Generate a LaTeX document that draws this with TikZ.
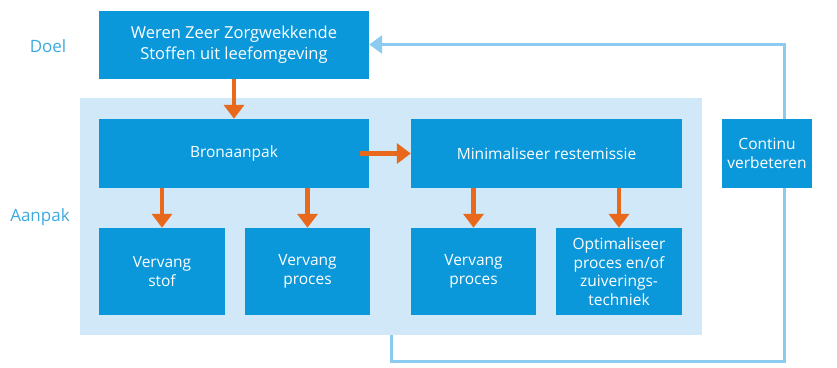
\documentclass[tikz,border=0pt]{standalone}
\usepackage{fontspec}
\setmainfont{Open Sans}
\usetikzlibrary{arrows.meta}

\definecolor{roblue}{RGB}{10,152,218}
\definecolor{ropanel}{RGB}{208,232,248}
\definecolor{roline}{RGB}{140,203,240}
\definecolor{rolabel}{RGB}{60,170,225}
\definecolor{roorange}{RGB}{232,104,28}

\tikzset{
  blok/.style={fill=roblue, text=white, align=center, inner sep=2pt,
    font=\fontsize{15.5}{18.5}\selectfont},
  pijl/.style={roorange, line width=4.5pt, -{Triangle[width=20pt,length=14pt]}},
  lus/.style={roline, line width=3pt, -{Triangle[width=18pt,length=13pt]}},
  kop/.style={text=rolabel, font=\fontsize{17}{20}\selectfont}
}

\begin{document}
\begin{tikzpicture}[x=1pt, y=-1pt]
  \useasboundingbox (0,0) rectangle (837,367);

  % achtergrondvlak aanpak
  \fill[ropanel] (80,98) rectangle (702,335);

  \coordinate (start) at (391,335);
  \coordinate (hoek) at (784,361);

  \node[kop] (doel) at (48,46) {Doel};
  \node[kop] (aanpak) at (40,217) {Aanpak};

  \node[blok, minimum width=270pt, minimum height=68pt,
    font=\fontsize{16.5}{21}\selectfont] (weren) at (234,44.5)
    {Weren Zeer Zorgwekkende\\Stoffen uit leefomgeving};

  \node[blok, minimum width=270pt, minimum height=69pt] (bron) at (234,153.5) {Bronaanpak};
  \node[blok, minimum width=271pt, minimum height=69pt] (mini) at (546.5,153.5) {Minimaliseer restemissie};

  \node[blok, minimum width=126pt, minimum height=87pt] (stof) at (162,271.5) {Vervang\\stof};
  \node[blok, minimum width=125pt, minimum height=87pt] (proca) at (307.5,271.5) {Vervang\\proces};
  \node[blok, minimum width=125pt, minimum height=87pt] (procb) at (473.5,271.5) {Vervang\\proces};
  \node[blok, minimum width=126pt, minimum height=87pt] (opt) at (619,271.5)
    {Optimaliseer\\proces en/of\\zuiverings-\\techniek};

  % terugkoppeling
  \draw[lus] (start) |- (hoek) |- (weren.east);
  \node[blok, minimum width=90pt, minimum height=69pt] (cont) at (767,153.5) {Continu\\verbeteren};

  \draw[pijl] (weren.south) -- (bron.north);
  \draw[pijl] ([xshift=-9pt]bron.east) -- (mini.west);
  \draw[pijl] (bron.south -| stof) -- (stof.north);
  \draw[pijl] (bron.south -| proca) -- (proca.north);
  \draw[pijl] (mini.south -| procb) -- (procb.north);
  \draw[pijl] (mini.south -| opt) -- (opt.north);
\end{tikzpicture}
\end{document}
